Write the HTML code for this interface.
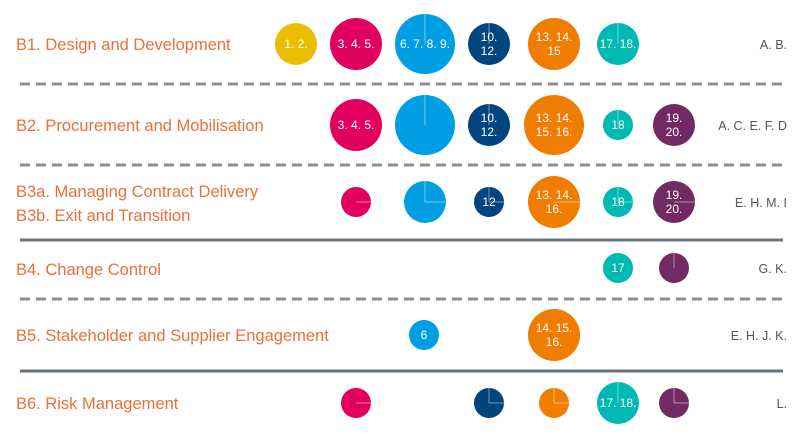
<!DOCTYPE html>
<html><head><meta charset="utf-8"><style>
body{margin:0;background:#fff;}
svg{display:block;font-family:"Liberation Sans",Arial,sans-serif;}
.l{fill:#ec6f3a;font-size:16.5px;}
.r{fill:#555;font-size:12.5px;text-anchor:end;}
.c{fill:#fff;font-size:12px;text-anchor:middle;}
</style></head><body>
<svg width="805" height="436" viewBox="0 0 805 436">
<g stroke="#8f8f8f" stroke-width="3" stroke-dasharray="10,6">
<line x1="20" y1="84" x2="783" y2="84"/>
<line x1="20" y1="165" x2="783" y2="165"/>
<line x1="20" y1="299" x2="783" y2="299"/>
</g>
<g stroke="#67747c" stroke-width="3">
<line x1="20" y1="240" x2="783" y2="240"/>
<line x1="20" y1="371" x2="783" y2="371"/>
</g>
<text class="l" x="16" y="50">B1. Design and Development</text>
<text class="l" x="16" y="131">B2. Procurement and Mobilisation</text>
<text class="l" x="16" y="197">B3a. Managing Contract Delivery</text>
<text class="l" x="16" y="221">B3b. Exit and Transition</text>
<text class="l" x="16" y="275">B4. Change Control</text>
<text class="l" x="16" y="341">B5. Stakeholder and Supplier Engagement</text>
<text class="l" x="16" y="409">B6. Risk Management</text>
<text class="r" x="787" y="49">A. B.</text>
<text class="r" x="787" y="130">A. C. E. F. D</text>
<text class="r" x="787" y="207">E. H. M. I</text>
<text class="r" x="787" y="273">G. K.</text>
<text class="r" x="787" y="340">E. H. J. K.</text>
<text class="r" x="787" y="408">L.</text>
<!-- circles -->
<circle cx="296" cy="44" r="21" fill="#eabd00"/>
<circle cx="356" cy="44" r="26" fill="#e2005f"/>
<circle cx="425" cy="44" r="30" fill="#009fe3"/>
<circle cx="489" cy="44" r="21" fill="#00457e"/>
<circle cx="554" cy="44" r="26" fill="#ef7d00"/>
<circle cx="618" cy="44" r="21" fill="#00b9b3"/>
<circle cx="356" cy="125" r="26" fill="#e2005f"/>
<circle cx="425" cy="125" r="30" fill="#009fe3"/>
<circle cx="489" cy="125" r="21" fill="#00457e"/>
<circle cx="554" cy="125" r="30" fill="#ef7d00"/>
<circle cx="618" cy="125" r="15" fill="#00b9b3"/>
<circle cx="674" cy="125" r="21" fill="#722a62"/>
<circle cx="356" cy="202" r="15" fill="#e2005f"/>
<circle cx="425" cy="202" r="21" fill="#009fe3"/>
<circle cx="489" cy="202" r="15" fill="#00457e"/>
<circle cx="554" cy="202" r="26" fill="#ef7d00"/>
<circle cx="618" cy="202" r="15" fill="#00b9b3"/>
<circle cx="674" cy="202" r="21" fill="#722a62"/>
<circle cx="618" cy="268" r="15" fill="#00b9b3"/>
<circle cx="674" cy="268" r="15" fill="#722a62"/>
<circle cx="424" cy="335" r="15" fill="#009fe3"/>
<circle cx="554" cy="335" r="26" fill="#ef7d00"/>
<circle cx="356" cy="403" r="15" fill="#e2005f"/>
<circle cx="489" cy="403" r="15" fill="#00457e"/>
<circle cx="554" cy="403" r="15" fill="#ef7d00"/>
<circle cx="618" cy="403" r="21" fill="#00b9b3"/>
<circle cx="674" cy="403" r="15" fill="#722a62"/>
<g stroke="#ffffff" stroke-opacity="0.45" stroke-width="1">
<line x1="425" y1="14" x2="425" y2="44"/>
<line x1="489" y1="23" x2="489" y2="44"/>
<line x1="618" y1="23" x2="618" y2="44"/>
<line x1="425" y1="95" x2="425" y2="125"/>
<line x1="489" y1="104" x2="489" y2="125"/>
<line x1="618" y1="110" x2="618" y2="125"/>
<line x1="356" y1="202" x2="371" y2="202"/>
<line x1="425" y1="181" x2="425" y2="202"/><line x1="425" y1="202" x2="446" y2="202"/>
<line x1="489" y1="187" x2="489" y2="202"/><line x1="489" y1="202" x2="504" y2="202"/>
<line x1="554" y1="202" x2="580" y2="202"/>
<line x1="618" y1="187" x2="618" y2="202"/><line x1="618" y1="202" x2="633" y2="202"/>
<line x1="674" y1="202" x2="695" y2="202"/>
<line x1="674" y1="253" x2="674" y2="268"/>
<line x1="356" y1="403" x2="371" y2="403"/>
<line x1="489" y1="388" x2="489" y2="403"/><line x1="489" y1="403" x2="504" y2="403"/>
<line x1="554" y1="388" x2="554" y2="403"/><line x1="554" y1="403" x2="569" y2="403"/>
<line x1="618" y1="382" x2="618" y2="403"/>
<line x1="674" y1="388" x2="674" y2="403"/><line x1="674" y1="403" x2="689" y2="403"/>
</g>
<text class="c" x="296" y="48">1. 2.</text>
<text class="c" x="356" y="48">3. 4. 5.</text>
<text class="c" x="425" y="48">6. 7. 8. 9.</text>
<text class="c" x="489" y="41">10.</text><text class="c" x="489" y="55">12.</text>
<text class="c" x="554" y="41">13. 14.</text><text class="c" x="554" y="55">15</text>
<text class="c" x="618" y="48">17. 18.</text>
<text class="c" x="356" y="129">3. 4. 5.</text>
<text class="c" x="489" y="122">10.</text><text class="c" x="489" y="136">12.</text>
<text class="c" x="554" y="122">13. 14.</text><text class="c" x="554" y="136">15. 16.</text>
<text class="c" x="618" y="129">18</text>
<text class="c" x="674" y="122">19.</text><text class="c" x="674" y="136">20.</text>
<text class="c" x="489" y="206">12</text>
<text class="c" x="554" y="199">13. 14.</text><text class="c" x="554" y="213">16.</text>
<text class="c" x="618" y="206">18</text>
<text class="c" x="674" y="199">19.</text><text class="c" x="674" y="213">20.</text>
<text class="c" x="618" y="272">17</text>
<text class="c" x="424" y="339">6</text>
<text class="c" x="554" y="332">14. 15.</text><text class="c" x="554" y="346">16.</text>
<text class="c" x="618" y="407">17. 18.</text>
</svg>
</body></html>
